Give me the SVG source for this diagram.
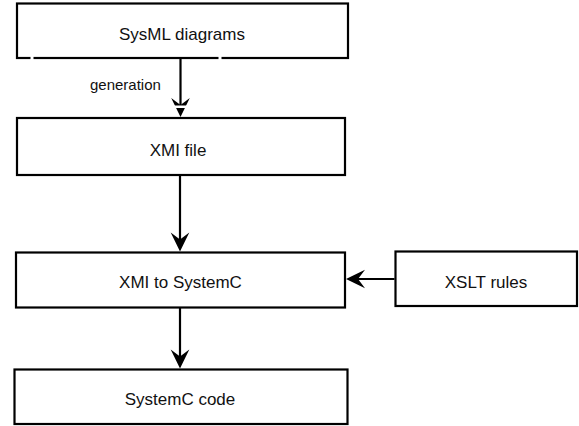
<svg xmlns="http://www.w3.org/2000/svg" width="579" height="426" viewBox="0 0 579 426">
<style>
.box{fill:#fff;stroke:#000;stroke-width:2.2}
.lbl{font-family:"Liberation Sans",Arial,sans-serif;font-size:17px;fill:#111;text-anchor:middle}
.edge{stroke:#000;stroke-width:2.2;fill:none}
.small{font-family:"Liberation Sans",Arial,sans-serif;font-size:15px;fill:#111}
</style>
<defs>
<path id="ah" d="M0,0 L-9.3,-19 L0,-12 L9.3,-19 Z" fill="#000"/>
</defs>
<rect width="579" height="426" fill="#fff"/>
<g id="sysml">
<rect class="box" x="17" y="3.5" width="331" height="54.5"/>
<rect x="30.5" y="56" width="3" height="4" fill="#fff"/>
<rect x="218.5" y="56" width="3" height="4" fill="#fff"/>
<text class="lbl" x="182" y="40">SysML diagrams</text>
</g>
<g id="xmi">
<rect class="box" x="17" y="118" width="328" height="57"/>
<text class="lbl" x="178" y="156">XMI file</text>
</g>
<g id="xmi2systemc">
<rect class="box" x="16" y="252.5" width="329" height="55"/>
<text class="lbl" x="180.5" y="288">XMI to SystemC</text>
</g>
<g id="xslt">
<rect class="box" x="395.5" y="251.5" width="181.5" height="54.5"/>
<text class="lbl" x="486" y="287.5">XSLT rules</text>
</g>
<g id="code">
<rect class="box" x="14.5" y="369.5" width="333" height="54.5"/>
<text class="lbl" x="180" y="404.5">SystemC code</text>
</g>
<g id="connectors">
<line class="edge" x1="180.5" y1="59" x2="180.5" y2="105"/>
<use href="#ah" transform="translate(180.5,117)"/>
<rect x="170" y="105.5" width="22" height="2.5" fill="#fff"/>
<text class="small" x="90" y="90">generation</text>
<line class="edge" x1="180" y1="176" x2="180" y2="242"/>
<use href="#ah" transform="translate(180,251.5)"/>
<line class="edge" x1="394.5" y1="279" x2="356" y2="279"/>
<use href="#ah" transform="translate(346,279) rotate(90)"/>
<line class="edge" x1="180" y1="308" x2="180" y2="360"/>
<use href="#ah" transform="translate(180,368.5)"/>
</g>
</svg>
